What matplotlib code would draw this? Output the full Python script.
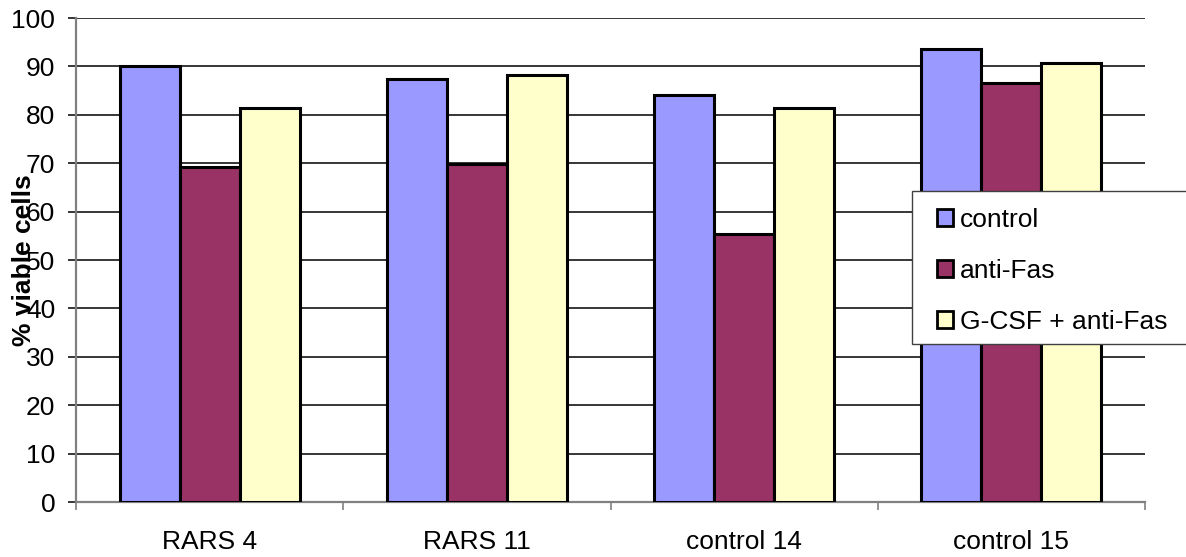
import numpy as np
import matplotlib
matplotlib.use("Agg")
import matplotlib.pyplot as plt
from matplotlib.patches import Rectangle

plt.rcParams['font.family'] = ['Liberation Sans', 'DejaVu Sans']

# viability per sample and treatment
samples = ["RARS 4", "RARS 11", "control 14", "control 15"]
treatments = ["control", "anti-Fas", "G-CSF + anti-Fas"]
control = [90.0, 87.5, 84.0, 93.5]
anti_fas = [69.2, 69.8, 55.3, 86.5]
gcsf_anti_fas = [81.5, 88.2, 81.5, 90.6]
y_ticks = list(range(0, 101, 10))

colors = ["#9999FF", "#993366", "#FFFFCC"]
series = [control, anti_fas, gcsf_anti_fas]

W, H, DPI = 1186, 557, 100
FS = 19
fig = plt.figure(figsize=(W / DPI, H / DPI), dpi=DPI)
ax = fig.add_axes([76 / W, 1 - 502 / H, (1145 - 76) / W, (502 - 18) / H])

x = np.arange(len(samples))
bw = 0.2247
for i, (vals, col, name) in enumerate(zip(series, colors, treatments)):
    ax.bar(x + (i - 1) * bw, vals, width=bw, color=col, edgecolor="black",
           linewidth=2.2, label=name, zorder=3)

ax.set_xlim(-0.5, len(samples) - 0.5)
ax.set_ylim(0, 100)
ax.set_yticks(y_ticks)
ax.yaxis.grid(True, color="black", linewidth=1.1)
ax.set_axisbelow(True)

ax.set_xticks(x)
ax.set_xticklabels(samples)
ax.set_xticks(np.arange(len(samples) + 1) - 0.5, minor=True)
ax.tick_params(axis="x", which="major", length=0, pad=20, labelsize=FS)
ax.tick_params(axis="x", which="minor", length=6, width=1.2, color="#808080", direction="out")
ax.tick_params(axis="y", length=6, width=1.1, color="black", pad=9, labelsize=FS)

for side in ("top", "right"):
    ax.spines[side].set_visible(False)
for side in ("left", "bottom"):
    ax.spines[side].set_color("#808080")
    ax.spines[side].set_linewidth(1.6)

ax.set_ylabel("% viable cells", fontsize=19, fontweight="bold", va="center")
ax.yaxis.set_label_coords((24 - 76) / (1145 - 76), 0.5)

# legend box runs off the right edge of the figure
fig.patches.append(Rectangle((912 / W, 1 - 344 / H), (1210 - 912) / W, (344 - 191) / H,
                             transform=fig.transFigure, facecolor="white",
                             edgecolor="#404040", linewidth=1.0, zorder=5))
leg = fig.legend(loc="upper left", bbox_to_anchor=(937 / W, 1 - 208 / H),
                 fontsize=FS, frameon=False, borderpad=0, handlelength=0.6,
                 handleheight=0.6, handletextpad=0.27, labelspacing=1.02,
                 borderaxespad=0)
leg.set_zorder(6)
for h in leg.legend_handles:
    h.set_linewidth(2.0)

fig.savefig("out.png", dpi=DPI)
